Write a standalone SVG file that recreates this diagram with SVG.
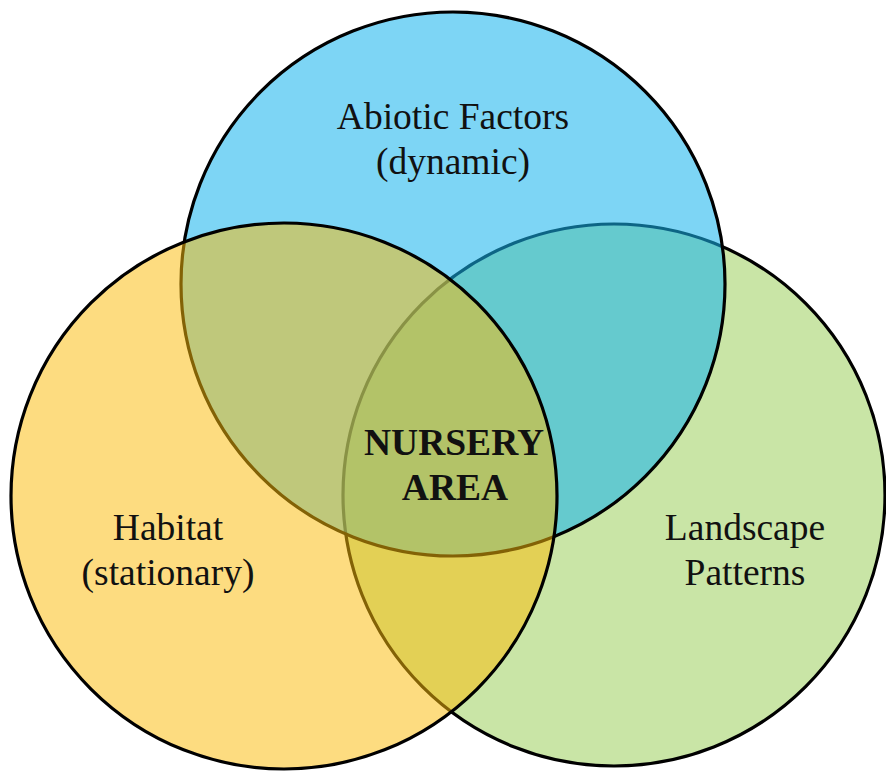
<svg xmlns="http://www.w3.org/2000/svg" width="886" height="771" viewBox="0 0 886 771">
<style>
.c{stroke:#000;stroke-width:3.2}
.t{font-family:"Liberation Serif","Times New Roman",serif;font-size:37.5px;fill:#111;text-anchor:middle}
.b{font-weight:bold}
</style>
<rect width="886" height="771" fill="#fff"/>
<g id="landscape">
<circle class="c" cx="614" cy="495" r="271" fill="#c9e5a6"/>
</g>
<g id="abiotic">
<circle class="c" cx="453" cy="284" r="272" fill="rgb(23,180,237)" fill-opacity="0.56"/>
</g>
<g id="habitat">
<circle class="c" cx="284" cy="496" r="273" fill="rgb(251,188,11)" fill-opacity="0.52"/>
</g>
<g id="labels">
<text class="t" x="453" y="129">Abiotic Factors</text>
<text class="t" x="453" y="174">(dynamic)</text>
<text class="t" x="168" y="540">Habitat</text>
<text class="t" x="168" y="585">(stationary)</text>
<text class="t" x="745" y="540">Landscape</text>
<text class="t" x="745" y="585">Patterns</text>
</g>
<g id="nursery">
<text class="t b" x="454" y="455">NURSERY</text>
<text class="t b" x="455" y="500">AREA</text>
</g>
</svg>
